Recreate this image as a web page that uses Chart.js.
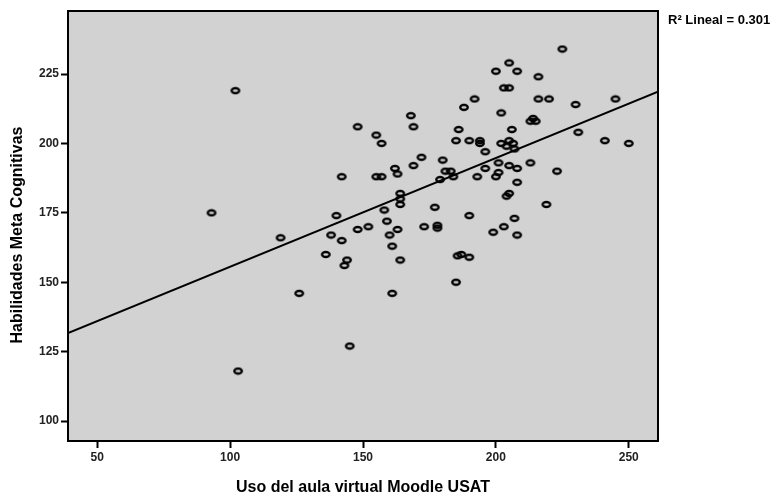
<!DOCTYPE html>
<html>
<head>
<meta charset="utf-8">
<script src="https://cdn.jsdelivr.net/npm/chart.js@4"></script>
<style>
  html, body { margin: 0; padding: 0; background: #fff; }
  #box { width: 772px; height: 496px; }
</style>
</head>
<body>
<div id="box"><canvas id="scatter"></canvas></div>
<script>
// values
const usoMoodle = [102, 93, 148, 155, 157, 142, 155, 157, 162, 163,
  164, 119, 140, 138, 148, 152, 142, 158, 159, 160,
  163, 161, 136, 144, 143, 164, 126, 161, 145, 103,
  185.6, 187, 190, 185, 225, 205, 200, 208, 216, 203,
  205, 192, 188, 216, 220, 230, 245, 202, 168, 169,
  186, 206, 213, 214, 215, 231, 241, 250, 185, 190,
  194, 194, 196, 202, 205, 204, 206.5, 207, 172, 169,
  180, 181, 183, 184, 179, 193, 196, 201, 205, 208,
  213, 200, 201, 208, 223, 164, 164, 177, 190, 173,
  178, 178, 204, 205, 219, 199, 203, 207, 208];
const habilidades = [219, 175, 206, 203, 200, 188, 188, 188, 191, 189,
  182, 166, 174, 167, 169, 170, 165, 176, 172, 167,
  169, 163, 160, 158, 156, 158, 146, 146, 127, 118,
  159.5, 160, 159, 150, 234, 229, 226, 226, 224, 220,
  220, 216, 213, 216, 216, 214, 216, 211, 210, 206,
  205, 205, 208, 209, 208, 204, 201, 200, 201, 201,
  201, 200, 197, 200, 201, 199, 200, 198, 195, 192,
  194, 190, 190, 188, 187, 188, 191, 193, 192, 191,
  193, 188, 189.5, 186, 190, 180, 178, 177, 174, 170,
  169.5, 170.5, 181, 182, 178, 168, 170, 173, 167];

// fit line ends (R2 lineal)
const fitX = [39, 261];
const fitY = [131.7, 218.6];

const xTicks = [50, 100, 150, 200, 250];
const yTicks = [100, 125, 150, 175, 200, 225];
const xRange = [39, 261];
const yRange = [92.8, 247.7];

const FONT = "'Liberation Sans', Arial, sans-serif";

// little open ellipse like the spss marker
function ringMarker() {
  const c = document.createElement('canvas');
  c.width = 12;
  c.height = 9;
  const g = c.getContext('2d');
  g.strokeStyle = '#000';
  g.lineWidth = 2.3;
  g.beginPath();
  g.ellipse(6, 4.5, 3.8, 2.5, 0, 0, Math.PI * 2);
  g.stroke();
  return c;
}

const plotFrame = {
  id: 'plotFrame',
  beforeDatasetsDraw(chart) {
    const { ctx, chartArea: a } = chart;
    ctx.save();
    ctx.fillStyle = '#d2d2d2';
    ctx.fillRect(a.left, a.top, a.right - a.left, a.bottom - a.top);
    ctx.restore();
  },
  afterDatasetsDraw(chart) {
    const { ctx, chartArea: a } = chart;
    ctx.save();
    ctx.strokeStyle = '#000';
    ctx.lineWidth = 2;
    ctx.strokeRect(a.left, a.top, a.right - a.left, a.bottom - a.top);
    ctx.fillStyle = '#000';
    ctx.font = 'bold 13px ' + FONT;
    ctx.textBaseline = 'middle';
    ctx.fillText('R\u00b2 Lineal = 0.301', a.right + 10, 20);
    // y title sits a bit below the plot middle in the original
    ctx.font = 'bold 16px ' + FONT;
    ctx.textAlign = 'center';
    ctx.translate(18, 235);
    ctx.rotate(-Math.PI / 2);
    ctx.fillText('Habilidades Meta Cognitivas', 0, 0);
    ctx.restore();
  }
};

const points = usoMoodle.map((v, i) => ({ x: v, y: habilidades[i] }));
const fitLine = fitX.map((v, i) => ({ x: v, y: fitY[i] }));

const tickFont = { family: FONT, size: 12, weight: 'bold' };
const titleFont = { family: FONT, size: 16, weight: 'bold' };

new Chart(document.getElementById('scatter'), {
  type: 'scatter',
  data: {
    datasets: [
      {
        data: fitLine,
        showLine: true,
        borderColor: '#000',
        borderWidth: 2,
        pointRadius: 0,
        fill: false
      },
      {
        data: points,
        pointStyle: ringMarker(),
        pointRadius: 4
      }
    ]
  },
  options: {
    responsive: true,
    maintainAspectRatio: false,
    animation: false,
    devicePixelRatio: 1,
    layout: { padding: { top: 11, right: 114, left: 0, bottom: 0 } },
    plugins: {
      legend: { display: false },
      tooltip: { enabled: false }
    },
    scales: {
      x: {
        type: 'linear',
        min: xRange[0],
        max: xRange[1],
        afterBuildTicks: s => { s.ticks = xTicks.map(v => ({ value: v })); },
        afterFit: s => { s.height = 55; },
        border: { display: false },
        grid: {
          drawOnChartArea: false,
          drawTicks: true,
          tickLength: 7,
          tickColor: '#000',
          tickWidth: 2
        },
        ticks: { font: tickFont, color: '#222', padding: 2, maxRotation: 0 },
        title: {
          display: true,
          text: 'Uso del aula virtual Moodle USAT',
          font: titleFont,
          color: '#000',
          padding: { top: 0, bottom: -1 }
        }
      },
      y: {
        type: 'linear',
        min: yRange[0],
        max: yRange[1],
        afterBuildTicks: s => { s.ticks = yTicks.map(v => ({ value: v })); },
        afterFit: s => { s.width = 68; },
        border: { display: false },
        grid: {
          drawOnChartArea: false,
          drawTicks: true,
          tickLength: 7,
          tickColor: '#000',
          tickWidth: 2
        },
        ticks: { font: tickFont, color: '#222', padding: 2 }
      }
    }
  },
  plugins: [plotFrame]
});
</script>
</body>
</html>
